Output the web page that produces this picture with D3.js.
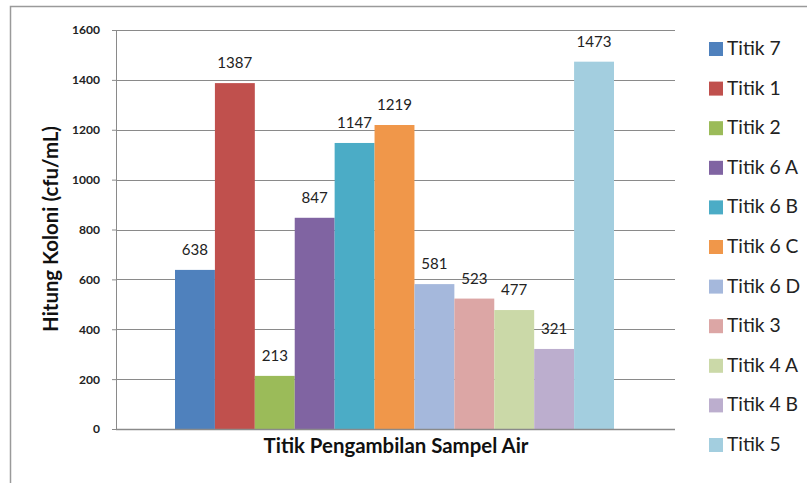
<!DOCTYPE html>
<html><head><meta charset="utf-8">
<script src="https://cdn.jsdelivr.net/npm/d3@7"></script>
<style>body{margin:0;background:#fff}svg{display:block}text{font-family:Lato,"Open Sans",sans-serif}</style>
</head><body><svg id="c" width="807" height="483"></svg>
<script>
const categories = ["Titik 7","Titik 1","Titik 2","Titik 6 A","Titik 6 B","Titik 6 C","Titik 6 D","Titik 3","Titik 4 A","Titik 4 B","Titik 5"];
const values = [638,1387,213,847,1147,1219,581,523,477,321,1473];
const colors = ["#4F81BD","#C0504D","#9BBB59","#8064A2","#4BACC6","#F0974A","#A5B8DC","#DCA6A5","#CBD9A8","#BCAECE","#A3CEDF"];
const yTicks = [0,200,400,600,800,1000,1200,1400,1600];
const xTitle = "Titik Pengambilan Sampel Air";
const yTitle = "Hitung Koloni (cfu/mL)";

const svg = d3.select("#c");
function fitSize(str, weight, target){
  const t = svg.append("text").attr("font-size",100).attr("font-weight",weight).text(str);
  const w = t.node().getComputedTextLength(); t.remove();
  return 100*target/w;
}
const tickFs = fitSize("1600","bold",28);
const labelFs = fitSize("1387","normal",35);
const legFs = fitSize("Titik 6 A","normal",71);
const xTitleFs = fitSize(xTitle,"bold",265);
const yTitleFs = fitSize(yTitle,"bold",206);

svg.append("rect").attr("x",10.5).attr("y",6.5).attr("width",900).attr("height",600)
  .attr("fill","none").attr("stroke","#9a9a9a").attr("stroke-width",1.5);

const L=116, R=675, T=30, B=429;
const y = d3.scaleLinear().domain([0,1600]).range([B,T]);
const x = d3.scaleBand().domain(categories).range([175,614]).padding(0);

// gridlines
svg.append("g").selectAll("line").data(yTicks.filter(d=>d>0)).join("line")
  .attr("x1",L).attr("x2",R).attr("y1",d=>Math.round(y(d))+0.5).attr("y2",d=>Math.round(y(d))+0.5)
  .attr("stroke","#8a8a8a").attr("stroke-width",1);

// y axis
const ya = svg.append("g").attr("transform",`translate(${L},0)`)
  .call(d3.axisLeft(y).tickValues(yTicks).tickSize(4).tickPadding(12).tickFormat(d3.format("d")));
ya.select(".domain").attr("stroke","#8a8a8a");
ya.selectAll(".tick line").attr("stroke","#8a8a8a");
ya.selectAll("text").attr("font-family","Lato, sans-serif").attr("font-size",tickFs).attr("font-weight","bold").attr("fill","#222");

// bars
svg.append("g").selectAll("rect").data(values).join("rect")
  .attr("x",(d,i)=>x(categories[i])).attr("width",x.bandwidth())
  .attr("y",d=>y(d)).attr("height",d=>B-y(d)).attr("fill",(d,i)=>colors[i]);

// x axis line
svg.append("line").attr("x1",L).attr("x2",R).attr("y1",B+0.5).attr("y2",B+0.5).attr("stroke","#8a8a8a").attr("stroke-width",1.5);

// data labels
svg.append("g").selectAll("text").data(values).join("text")
  .attr("x",(d,i)=>x(categories[i])+x.bandwidth()/2).attr("y",d=>y(d)-15)
  .attr("text-anchor","middle").attr("font-size",labelFs).attr("fill","#222").text(d=>d);

// titles
svg.append("text").attr("x",396).attr("y",453).attr("text-anchor","middle")
  .attr("font-size",xTitleFs).attr("font-weight","bold").attr("fill","#111").text(xTitle);
svg.append("text").attr("transform","translate(58,229) rotate(-90)").attr("text-anchor","middle")
  .attr("font-size",yTitleFs).attr("font-weight","bold").attr("fill","#111").text(yTitle);

// legend
const lg = svg.append("g").selectAll("g").data(categories).join("g")
  .attr("transform",(d,i)=>`translate(709,${49+i*39.6})`);
lg.append("rect").attr("x",0).attr("y",-7).attr("width",14).attr("height",14).attr("fill",(d,i)=>colors[i]);
lg.append("text").attr("x",18).attr("y",6).attr("font-size",legFs).attr("fill","#222").text(d=>d);
</script></body></html>
